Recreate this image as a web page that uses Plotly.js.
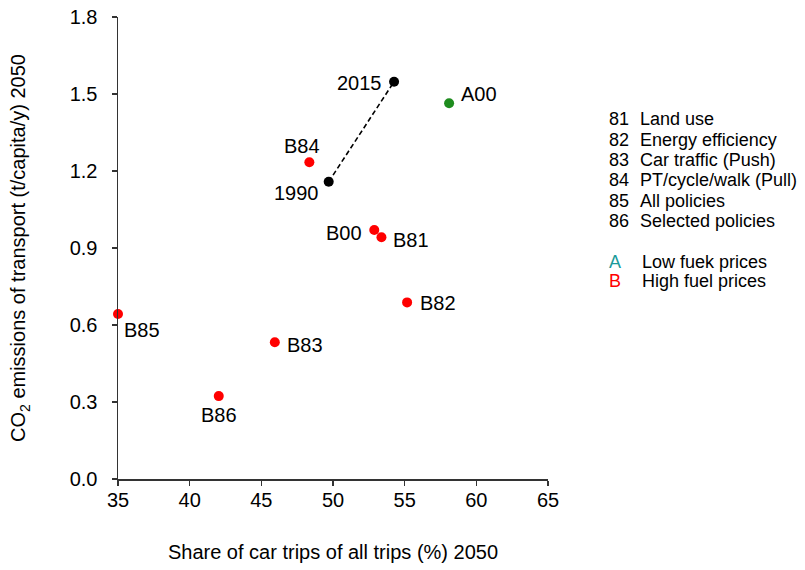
<!DOCTYPE html>
<html>
<head>
<meta charset="utf-8">
<script src="https://cdn.plot.ly/plotly-3.0.1.min.js"></script>
<style>html,body{margin:0;padding:0;background:#fff;}#chart{width:805px;height:570px;}</style>
</head>
<body>
<div id="chart"></div>
<script>
// Historical points
const histLabels = ["1990", "2015"];
const histX = [49.70, 54.26];
const histY = [1.158, 1.548];

// Scenario A (low fuel prices)
const aLabels = ["A00"];
const aX = [58.10];
const aY = [1.464];

// Scenario B (high fuel prices)
const bLabels = ["B84", "B00", "B81", "B82", "B83", "B85", "B86"];
const bX = [48.35, 52.88, 53.38, 55.17, 45.94, 35.0, 42.03];
const bY = [1.234, 0.970, 0.942, 0.688, 0.533, 0.643, 0.323];

// Side legend text
const policyCodes = ["81", "82", "83", "84", "85", "86"];
const policyNames = ["Land use", "Energy efficiency", "Car traffic (Push)", "PT/cycle/walk (Pull)", "All policies", "Selected policies"];
const scenarioCodes = ["A", "B"];
const scenarioNames = ["Low fuek prices", "High fuel prices"];

const xTicks = [35, 40, 45, 50, 55, 60, 65];
const yTicks = [0, 0.3, 0.6, 0.9, 1.2, 1.5, 1.8];

const FONT = "Liberation Sans, Arial, sans-serif";

// label placement (style)
const place = {
  "2015": {xa: "right", xs: -10, ys: -1},
  "1990": {xa: "right", xs: -8, ys: -11},
  "A00": {xa: "left", xs: 10, ys: 9},
  "B84": {xa: "center", xs: -7, ys: 16},
  "B00": {xa: "right", xs: -10, ys: -3},
  "B81": {xa: "left", xs: 10, ys: -3},
  "B82": {xa: "left", xs: 11, ys: -1},
  "B83": {xa: "left", xs: 10, ys: -3},
  "B85": {xa: "left", xs: 4, ys: -16},
  "B86": {xa: "center", xs: 0, ys: -19}
};

const annotations = [];
function addLabels(labels, xs, ys) {
  labels.forEach((l, i) => {
    const p = place[l];
    annotations.push({
      x: xs[i], y: ys[i], xref: "x", yref: "y", text: l, showarrow: false,
      xanchor: p.xa, yanchor: "middle", xshift: p.xs, yshift: p.ys,
      font: {family: FONT, size: 20, color: "#000"}
    });
  });
}
addLabels(histLabels, histX, histY);
addLabels(aLabels, aX, aY);
addLabels(bLabels, bX, bY);

const LEG = 18;
policyCodes.forEach((c, i) => {
  const yp = 0.779 - i * 0.0442;
  annotations.push({x: 1.137, y: yp, xref: "paper", yref: "paper", text: c, showarrow: false,
    xanchor: "left", yanchor: "middle", font: {family: FONT, size: LEG, color: "#000"}});
  annotations.push({x: 1.210, y: yp, xref: "paper", yref: "paper", text: policyNames[i], showarrow: false,
    xanchor: "left", yanchor: "middle", font: {family: FONT, size: LEG, color: "#000"}});
});
const scenColors = ["#1a9a9a", "#ff0000"];
const scenY = [0.4697, 0.4286];
scenarioCodes.forEach((c, i) => {
  annotations.push({x: 1.137, y: scenY[i], xref: "paper", yref: "paper", text: c, showarrow: false,
    xanchor: "left", yanchor: "middle", font: {family: FONT, size: LEG, color: scenColors[i]}});
  annotations.push({x: 1.214, y: scenY[i], xref: "paper", yref: "paper", text: scenarioNames[i], showarrow: false,
    xanchor: "left", yanchor: "middle", font: {family: FONT, size: LEG, color: "#000"}});
});

const traces = [
  {x: histX, y: histY, mode: "lines+markers", type: "scatter",
   line: {color: "#000", width: 1.6, dash: "5px,3px"},
   marker: {color: "#000", size: 10}, cliponaxis: false},
  {x: aX, y: aY, mode: "markers", type: "scatter",
   marker: {color: "#1e8c1e", size: 10}, cliponaxis: false},
  {x: bX, y: bY, mode: "markers", type: "scatter",
   marker: {color: "#ff0000", size: 10}, cliponaxis: false}
];

const layout = {
  width: 805, height: 570,
  margin: {l: 118, r: 257, t: 17, b: 91},
  paper_bgcolor: "#fff", plot_bgcolor: "#fff",
  showlegend: false,
  font: {family: FONT, size: 19, color: "#000"},
  xaxis: {
    range: [35, 65], tickvals: xTicks, ticktext: xTicks.map(String),
    showgrid: false, zeroline: false, showline: true, linecolor: "#333", linewidth: 1.5,
    ticks: "outside", ticklen: 5, tickwidth: 1.5, tickcolor: "#333",
    tickfont: {family: FONT, size: 20, color: "#000"},
    ticklabelstandoff: -3,
    automargin: false,
    title: {text: "Share of car trips of all trips (%) 2050", standoff: 35,
            font: {family: FONT, size: 20, color: "#000"}}
  },
  yaxis: {
    range: [0, 1.8], tickvals: yTicks, ticktext: yTicks.map(v => v.toFixed(1)),
    showgrid: false, zeroline: false, showline: true, linecolor: "#333", linewidth: 1.5,
    ticks: "outside", ticklen: 5, tickwidth: 1.5, tickcolor: "#333",
    tickfont: {family: FONT, size: 20, color: "#000"},
    ticklabelstandoff: 10,
    automargin: false,
    title: {text: "CO<sub>2</sub> emissions of transport (t/capita/y) 2050", standoff: 38,
            font: {family: FONT, size: 20, color: "#000"}}
  },
  annotations: annotations
};

Plotly.newPlot("chart", traces, layout, {displayModeBar: false, staticPlot: true});
</script>
</body>
</html>
